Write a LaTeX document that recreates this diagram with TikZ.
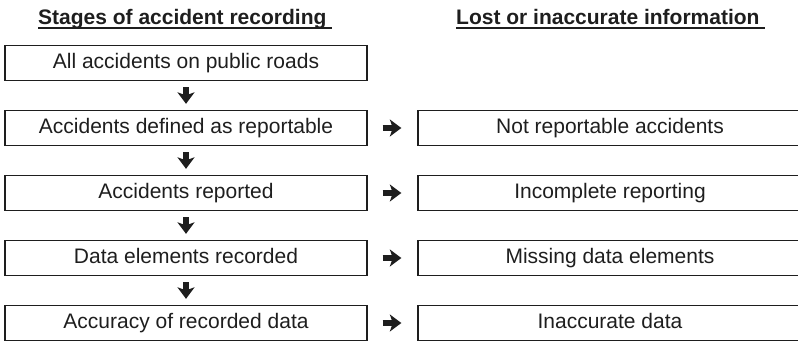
\documentclass[tikz,border=0pt]{standalone}
\usepackage{fontspec}
\setmainfont{Liberation Sans}
\usetikzlibrary{arrows.meta}
% underline set close to the baseline, running on past a trailing space
\newcommand\headul[1]{\setbox0\hbox{#1}\rlap{\rule[-4pt]{\wd0}{2pt}}\box0}
\definecolor{ink}{HTML}{1E1E1E}
\begin{document}
\begin{tikzpicture}[x=1pt,y=-1pt,
  stagebox/.style={draw=ink,line width=1.3pt,minimum width=362pt,minimum height=35pt,
    inner sep=0pt,font=\fontsize{21}{24}\selectfont,text=ink,
    text height=15pt,text depth=4.4pt},
  lossbox/.style={stagebox,minimum width=384pt},
  head/.style={anchor=base west,inner sep=0pt,font=\fontsize{21}{24}\selectfont\bfseries,text=ink},
  flow/.style={draw=ink,line width=5.5pt,-{Stealth[length=11.5pt,width=17pt,inset=3pt]}}]
\useasboundingbox (0,0) rectangle (798,342);
\clip (0,0) rectangle (798,342);

% column headings
\node[head] (h1) at (38,25) {\headul{Stages of accident recording\ }};
\node[head] (h2) at (456,25) {\headul{Lost or inaccurate information\ }};

% stages of recording
\node[stagebox] (s1) at (186,63)  {All accidents on public roads};
\node[stagebox] (s2) at (186,128) {Accidents defined as reportable};
\node[stagebox] (s3) at (186,193) {Accidents reported};
\node[stagebox] (s4) at (186,258) {Data elements recorded};
\node[stagebox] (s5) at (186,323) {Accuracy of recorded data};

% information lost at each stage
\node[lossbox] (l2) at (610,128) {Not reportable accidents};
\node[lossbox] (l3) at (610,193) {Incomplete reporting};
\node[lossbox] (l4) at (610,258) {Missing data elements};
\node[lossbox] (l5) at (610,323) {Inaccurate data};

% downward flow between stages
\foreach \a/\b in {s1/s2,s2/s3,s3/s4,s4/s5}
  \draw[flow,shorten <=6pt,shorten >=6pt] (\a) -- (\b);

% sideways arrows to the losses
\foreach \a/\b in {s2/l2,s3/l3,s4/l4,s5/l5}
  \draw[flow,shorten <=15pt,shorten >=16pt] (\a) -- (\b);
\end{tikzpicture}
\end{document}
